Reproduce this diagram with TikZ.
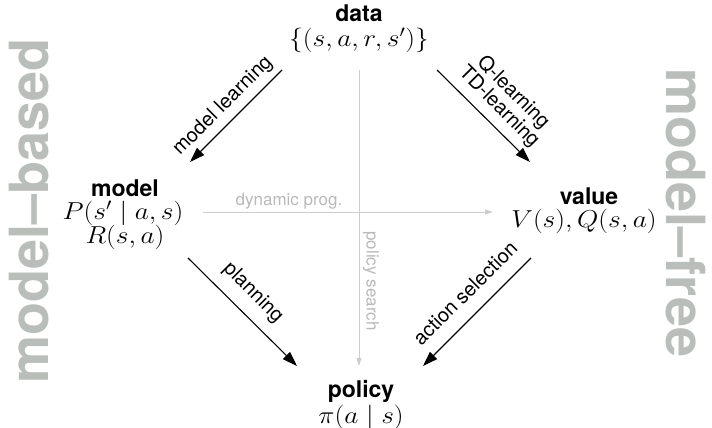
\RequirePackage{fix-cm}
\documentclass[tikz,border=0pt]{standalone}
\usepackage{graphicx}
\usepackage[no-math]{fontspec}
\newfontfamily\hv{TeX Gyre Heros}
\usetikzlibrary{arrows.meta}
\newcommand{\widemath}[1]{\scalebox{1.12}[1]{$#1$}}
\definecolor{sidegray}{RGB}{186,190,186}
\definecolor{lightline}{RGB}{205,205,205}
\definecolor{lighttext}{RGB}{185,185,185}
\tikzset{
  head/.style={font=\hv\bfseries\fontsize{23}{26}\selectfont, inner sep=0pt},
  formula/.style={font=\fontsize{24.5}{27}\selectfont, inner sep=0pt},
  edgelab/.style={font=\hv\fontsize{20}{20}\selectfont, inner sep=0pt, align=center},
  greylab/.style={font=\hv\fontsize{17}{18}\selectfont, inner sep=0pt, text=lighttext},
  sidelab/.style={font=\hv\bfseries\fontsize{54}{60}\selectfont, inner sep=0pt, text=sidegray},
  mainarrow/.style={line width=1.1pt, -{Triangle[length=15pt,width=10pt]}},
  greyarrow/.style={line width=0.9pt, draw=lightline, -{Triangle[length=8pt,width=5pt]}},
}
\begin{document}
\begin{tikzpicture}[x=1pt,y=-1pt]
\useasboundingbox (0,0) rectangle (712,428);
% nodes
\node[head] (data) at (359,13) {data};
\node[formula] (datam) at (359,40) {\widemath{\{(s,a,r,s')\}}};
\node[head] (model) at (125,188) {model};
\node[formula] (modelp) at (123,213) {\widemath{P(s'\mid a,s)}};
\node[formula] (modelr) at (125,237) {\widemath{R(s,a)}};
\node[head] (value) at (589,196) {value};
\node[formula] (valuem) at (584,221) {\widemath{V(s),Q(s,a)}};
\node[head] (policy) at (361,391) {policy};
\node[formula] (policym) at (361,417) {\widemath{\pi(a\mid s)}};
% side labels
\node[sidelab, rotate=90] (mb) at (29,211) {model–based};
\node[sidelab, rotate=-90] (mf) at (686,213) {model–free};
% connector end points
\coordinate (ml1) at (282,70);  \coordinate (ml2) at (190,162);
\coordinate (ql1) at (437,70);  \coordinate (ql2) at (530,162);
\coordinate (pl1) at (188,258); \coordinate (pl2) at (297,366);
\coordinate (as1) at (531,258); \coordinate (as2) at (423,366);
\coordinate (dp1) at (203,212); \coordinate (dp2) at (493,212);
\coordinate (ps1) at (359,70);  \coordinate (ps2) at (359,366);
% grey connectors
\draw[greyarrow] (dp1) -- (dp2);
\draw[greyarrow] (ps1) -- (ps2);
\node[greylab] (dplab) at (289,201) {dynamic prog.};
\node[greylab, rotate=-90] (pslab) at (371,281) {policy search};
% main connectors
\draw[mainarrow] (ml1) -- (ml2);
\draw[mainarrow] (ql1) -- (ql2);
\draw[mainarrow] (pl1) -- (pl2);
\draw[mainarrow] (as1) -- (as2);
\node[edgelab, rotate=45] (mllab) at (223,106) {model learning};
\node[edgelab, rotate=-45] (qllab) at (506,100) {Q-learning\\TD-learning};
\node[edgelab, rotate=-45] (pllab) at (253,293) {planning};
\node[edgelab, rotate=45] (aslab) at (465,293) {action selection};
\end{tikzpicture}
\end{document}
